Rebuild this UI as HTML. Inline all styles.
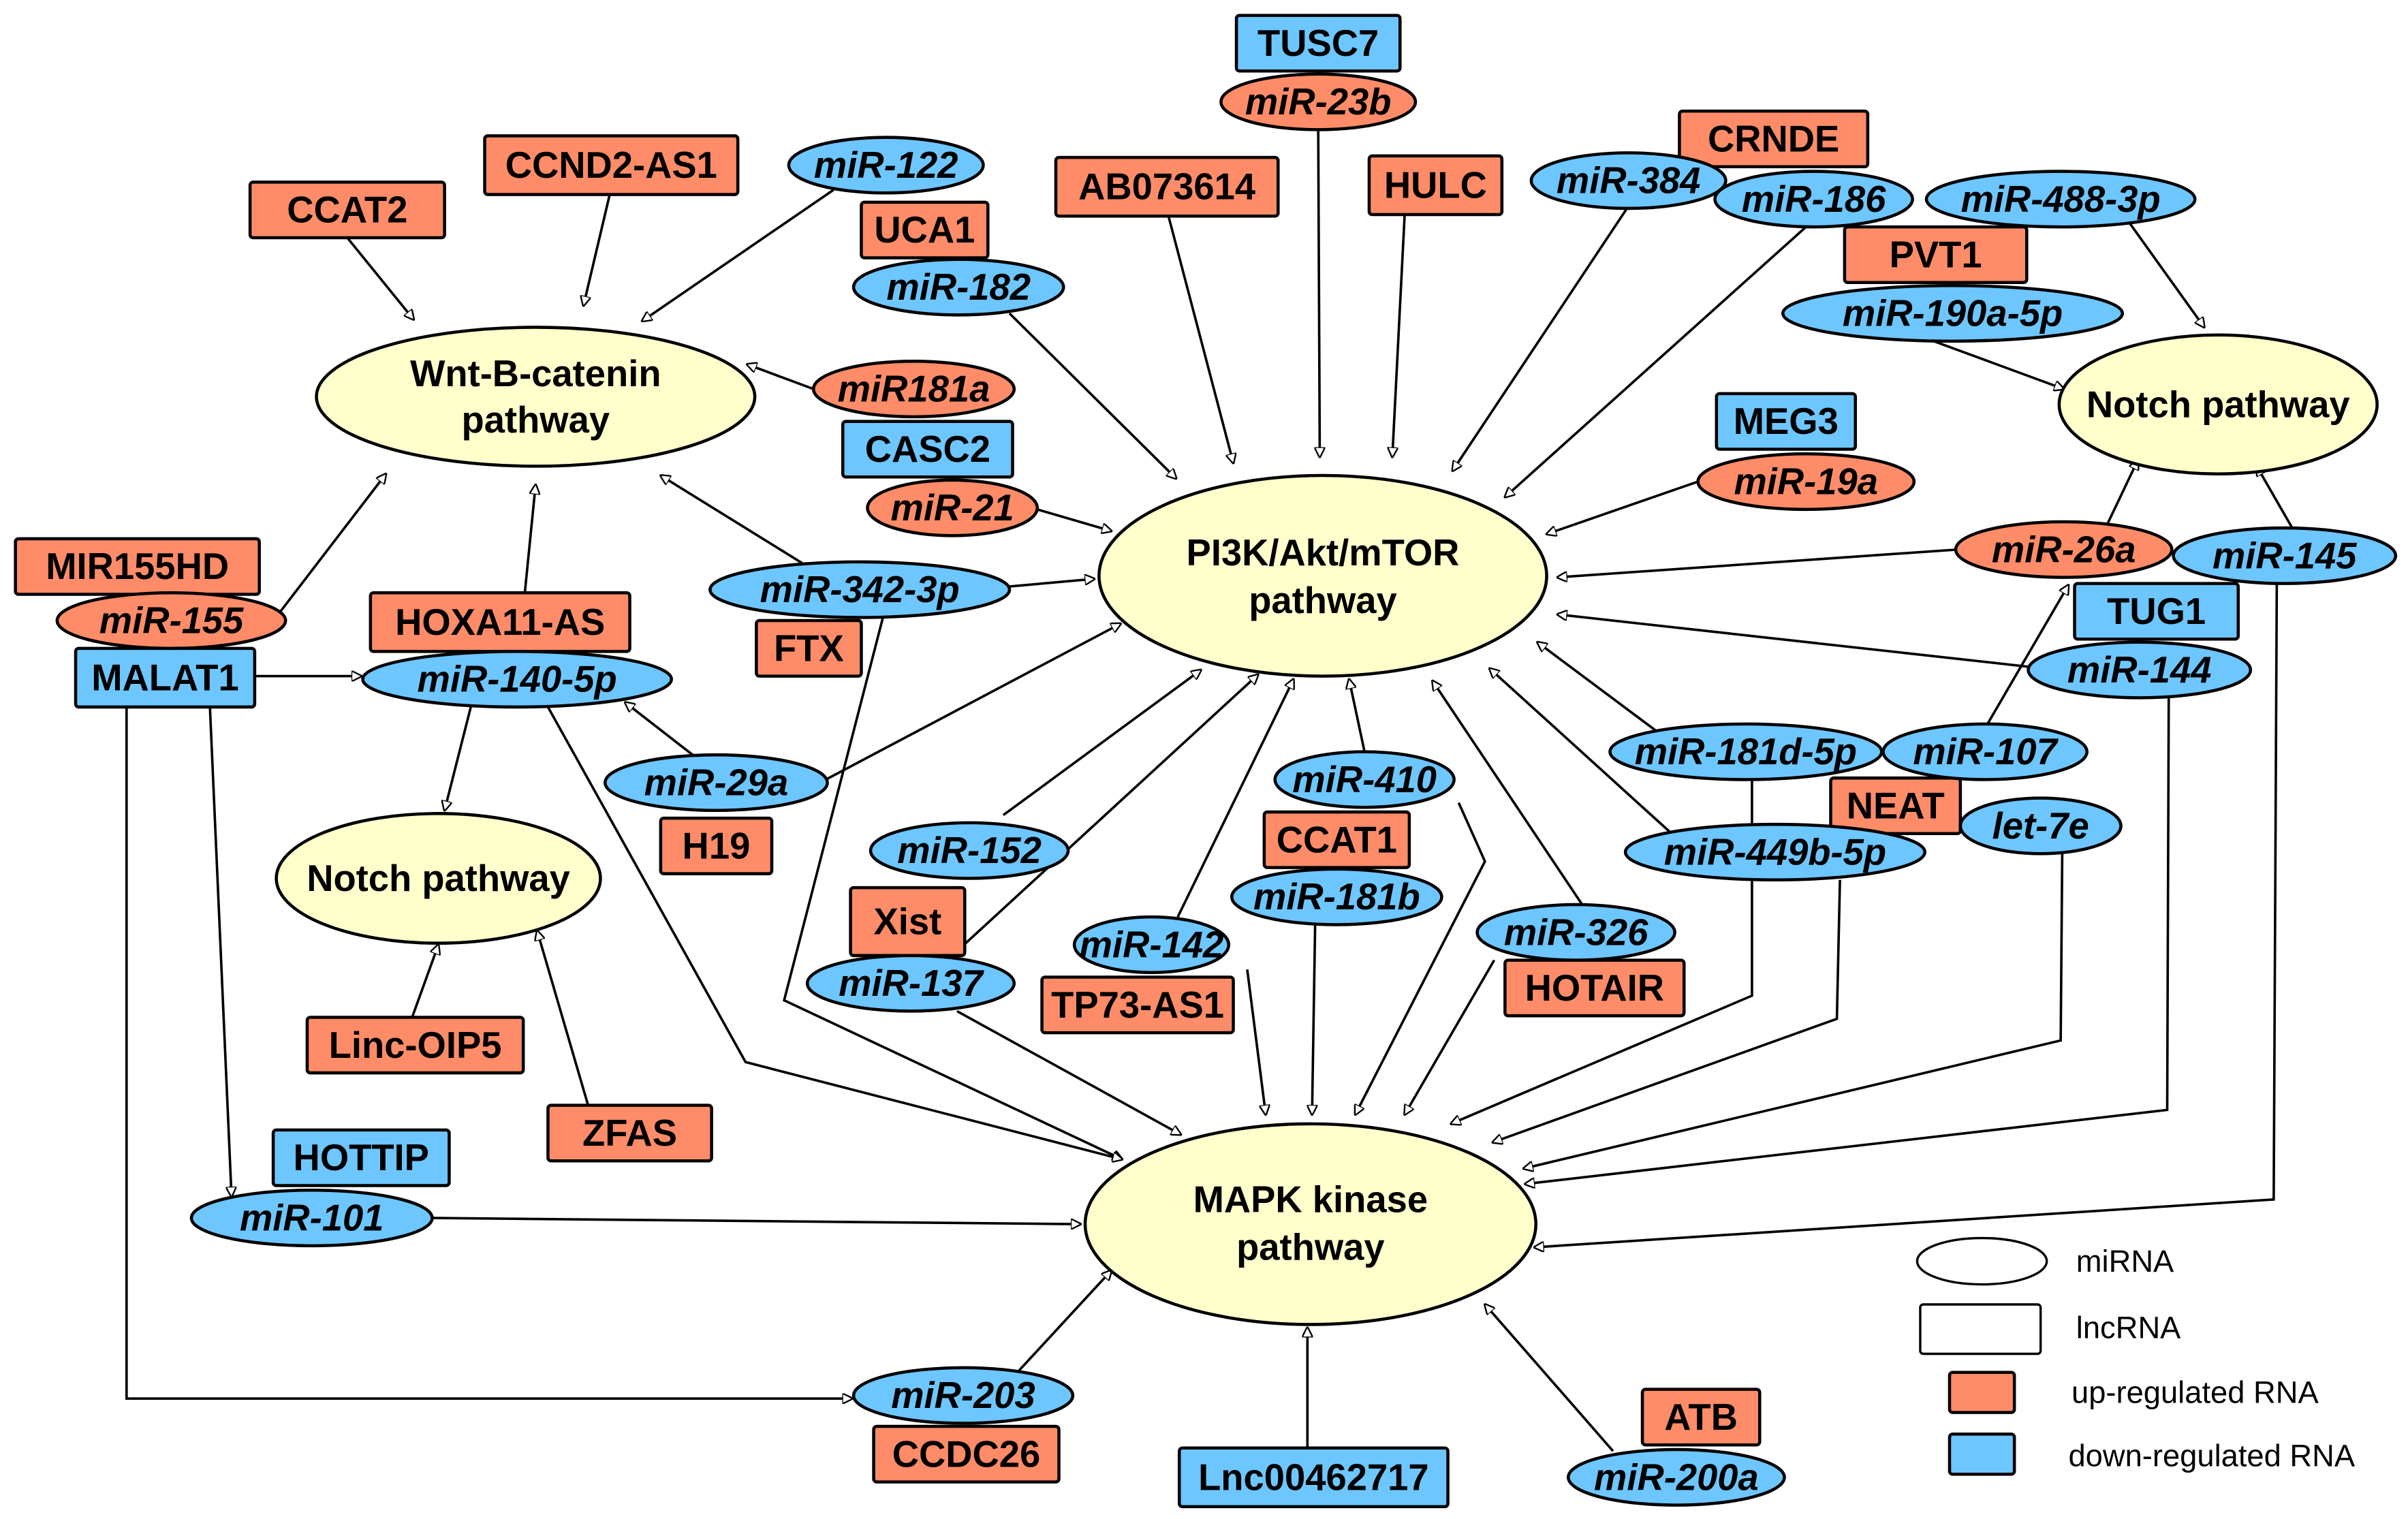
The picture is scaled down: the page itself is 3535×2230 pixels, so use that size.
<!DOCTYPE html>
<html><head><meta charset="utf-8"><style>
html,body{margin:0;padding:0;background:#fff}
svg{display:block}
text{font-family:"Liberation Sans Narrow","Liberation Sans",sans-serif;font-weight:bold;font-size:24px;text-anchor:middle;dominant-baseline:central;fill:#000}
.i{font-style:italic}
.lg{font-weight:normal;font-size:20px;text-anchor:start;font-family:"Liberation Sans",sans-serif}
.b{fill:#6ec6ff;stroke:#000;stroke-width:2}
.o{fill:#ff8c69;stroke:#000;stroke-width:2}
.p{fill:#ffffcc;stroke:#000;stroke-width:2}
.l{fill:none;stroke:#000;stroke-width:1.6;marker-end:url(#a)}
</style></head><body>
<svg width="3535" height="2230" viewBox="0 0 1560 984" preserveAspectRatio="none" xmlns="http://www.w3.org/2000/svg">
<defs><marker id="a" viewBox="0 0 10 10" refX="9" refY="5" markerWidth="7" markerHeight="7" orient="auto" markerUnits="userSpaceOnUse"><path d="M0,0 L10,5 L0,10 Z" fill="#fff" stroke="#000" stroke-width="1.5"/></marker></defs>

<!-- connectors -->
<path class="l" d="M225,154 L268,207"/>
<path class="l" d="M395,126 L378,198"/>
<path class="l" d="M540,123 L416,208"/>
<path class="l" d="M527,252 L484,236"/>
<path class="l" d="M654,203 L762,310"/>
<path class="l" d="M757,140 L799,300"/>
<path class="l" d="M854,84 L855,296"/>
<path class="l" d="M910,139 L902,296"/>
<path class="l" d="M1054,135 L941,305"/>
<path class="l" d="M1170,147 L975,322"/>
<path class="l" d="M1380,145 L1428,212"/>
<path class="l" d="M1250,220 L1337,252"/>
<path class="l" d="M1100,312 L1002,346"/>
<path class="l" d="M672,330 L720,344"/>
<path class="l" d="M520,365 L428,308"/>
<path class="l" d="M653,380 L709,375"/>
<path class="l" d="M572,400 L508,648 L727,751"/>
<path class="l" d="M181,397 L250,307"/>
<path class="l" d="M340,384 L347,314"/>
<path class="l" d="M165,438 L234,438"/>
<path class="l" d="M305,458 L288,525"/>
<path class="l" d="M355,458 L483,688 L727,751"/>
<path class="l" d="M450,490 L405,455"/>
<path class="l" d="M535,505 L726,404"/>
<path class="l" d="M1268,356 L1009,374"/>
<path class="l" d="M1365,340 L1385,298"/>
<path class="l" d="M1485,342 L1462,302"/>
<path class="l" d="M1475,378 L1473,777 L994,808"/>
<path class="l" d="M1315,432 L1009,398"/>
<path class="l" d="M1405,452 L1404,719 L988,767"/>
<path class="l" d="M1287,470 L1340,379"/>
<path class="l" d="M1075,475 L996,416"/>
<path class="l" d="M1083,540 L965,433"/>
<path class="l" d="M1135,505 L1135,645 L940,728"/>
<path class="l" d="M1192,570 L1190,660 L967,740"/>
<path class="l" d="M1336,553 L1335,674 L987,757"/>
<path class="l" d="M884,487 L874,440"/>
<path class="l" d="M945,520 L962,558 L878,722"/>
<path class="l" d="M852,599 L850,722"/>
<path class="l" d="M1025,586 L928,441"/>
<path class="l" d="M968,622 L910,722"/>
<path class="l" d="M650,528 L778,434"/>
<path class="l" d="M618,618 L815,437"/>
<path class="l" d="M620,655 L765,735"/>
<path class="l" d="M763,594 L838,440"/>
<path class="l" d="M808,628 L820,722"/>
<path class="l" d="M267,659 L284,612"/>
<path class="l" d="M381,716 L348,603"/>
<path class="l" d="M136,458 L150,775"/>
<path class="l" d="M82,458 L82,906 L552,906"/>
<path class="l" d="M280,789 L700,793"/>
<path class="l" d="M660,888 L720,823"/>
<path class="l" d="M847,938 L847,860"/>
<path class="l" d="M1045,940 L962,845"/>

<!-- pathways -->
<ellipse class="p" cx="347" cy="257" rx="142" ry="45"/><text x="347" y="242">Wnt-B-catenin</text><text x="347" y="272">pathway</text>
<ellipse class="p" cx="857" cy="373" rx="145" ry="65"/><text x="857" y="358">PI3K/Akt/mTOR</text><text x="857" y="389">pathway</text>
<ellipse class="p" cx="1437" cy="262" rx="103" ry="45"/><text x="1437" y="262">Notch pathway</text>
<ellipse class="p" cx="284" cy="569" rx="105" ry="42"/><text x="284" y="569">Notch pathway</text>
<ellipse class="p" cx="849" cy="793" rx="146" ry="65"/><text x="849" y="777">MAPK kinase</text><text x="849" y="808">pathway</text>

<!-- boxes -->
<rect class="b" x="801" y="10" width="106" height="36" rx="2"/><text x="854" y="28">TUSC7</text>
<rect class="o" x="162" y="118" width="126" height="36" rx="2"/><text x="225" y="136">CCAT2</text>
<rect class="o" x="314" y="88" width="164" height="38" rx="2"/><text x="396" y="107">CCND2-AS1</text>
<rect class="o" x="558" y="131" width="82" height="36" rx="2"/><text x="599" y="149">UCA1</text>
<rect class="o" x="684" y="102" width="144" height="38" rx="2"/><text x="756" y="121">AB073614</text>
<rect class="o" x="887" y="101" width="86" height="38" rx="2"/><text x="930" y="120">HULC</text>
<rect class="o" x="1088" y="72" width="122" height="36" rx="2"/><text x="1149" y="90">CRNDE</text>
<rect class="o" x="1195" y="147" width="118" height="36" rx="2"/><text x="1254" y="165">PVT1</text>
<rect class="b" x="546" y="273" width="110" height="36" rx="2"/><text x="601" y="291">CASC2</text>
<rect class="b" x="1112" y="255" width="90" height="36" rx="2"/><text x="1157" y="273">MEG3</text>
<rect class="o" x="10" y="349" width="158" height="36" rx="2"/><text x="89" y="367">MIR155HD</text>
<rect class="b" x="49" y="420" width="116" height="38" rx="2"/><text x="107" y="439">MALAT1</text>
<rect class="o" x="240" y="384" width="168" height="38" rx="2"/><text x="324" y="403">HOXA11-AS</text>
<rect class="o" x="490" y="402" width="68" height="36" rx="2"/><text x="524" y="420">FTX</text>
<rect class="b" x="1344" y="378" width="106" height="36" rx="2"/><text x="1397" y="396">TUG1</text>
<rect class="o" x="428" y="530" width="72" height="36" rx="2"/><text x="464" y="548">H19</text>
<rect class="o" x="819" y="526" width="94" height="36" rx="2"/><text x="866" y="544">CCAT1</text>
<rect class="o" x="1186" y="504" width="84" height="36" rx="2"/><text x="1228" y="522">NEAT</text>
<rect class="o" x="551" y="575" width="74" height="44" rx="2"/><text x="588" y="597">Xist</text>
<rect class="o" x="675" y="633" width="124" height="36" rx="2"/><text x="737" y="651">TP73-AS1</text>
<rect class="o" x="975" y="622" width="116" height="36" rx="2"/><text x="1033" y="640">HOTAIR</text>
<rect class="o" x="199" y="659" width="140" height="36" rx="2"/><text x="269" y="677">Linc-OIP5</text>
<rect class="o" x="355" y="716" width="106" height="36" rx="2"/><text x="408" y="734">ZFAS</text>
<rect class="b" x="177" y="732" width="114" height="36" rx="2"/><text x="234" y="750">HOTTIP</text>
<rect class="o" x="566" y="924" width="120" height="36" rx="2"/><text x="626" y="942">CCDC26</text>
<rect class="b" x="764" y="938" width="174" height="38" rx="2"/><text x="851" y="957">Lnc00462717</text>
<rect class="o" x="1064" y="900" width="76" height="36" rx="2"/><text x="1102" y="918">ATB</text>

<!-- miRNA ellipses -->
<g class="i">
<ellipse class="o" cx="854" cy="66" rx="63" ry="18"/><text class="i" x="854" y="66">miR-23b</text>
<ellipse class="b" cx="574" cy="107" rx="63" ry="18"/><text class="i" x="574" y="107">miR-122</text>
<ellipse class="b" cx="621" cy="186" rx="68" ry="18"/><text class="i" x="621" y="186">miR-182</text>
<ellipse class="b" cx="1055" cy="117" rx="63" ry="18"/><text class="i" x="1055" y="117">miR-384</text>
<ellipse class="b" cx="1175" cy="129" rx="64" ry="18"/><text class="i" x="1175" y="129">miR-186</text>
<ellipse class="b" cx="1335" cy="129" rx="87" ry="18"/><text class="i" x="1335" y="129">miR-488-3p</text>
<ellipse class="b" cx="1265" cy="203" rx="110" ry="18"/><text class="i" x="1265" y="203">miR-190a-5p</text>
<ellipse class="o" cx="592" cy="252" rx="65" ry="18"/><text class="i" x="592" y="252">miR181a</text>
<ellipse class="o" cx="617" cy="329" rx="55" ry="18"/><text class="i" x="617" y="329">miR-21</text>
<ellipse class="o" cx="1170" cy="312" rx="70" ry="18"/><text class="i" x="1170" y="312">miR-19a</text>
<ellipse class="o" cx="111" cy="402" rx="74" ry="18"/><text class="i" x="111" y="402">miR-155</text>
<ellipse class="b" cx="335" cy="440" rx="100" ry="18"/><text class="i" x="335" y="440">miR-140-5p</text>
<ellipse class="b" cx="557" cy="382" rx="97" ry="18"/><text class="i" x="557" y="382">miR-342-3p</text>
<ellipse class="o" cx="1337" cy="356" rx="70" ry="18"/><text class="i" x="1337" y="356">miR-26a</text>
<ellipse class="b" cx="1480" cy="360" rx="72" ry="18"/><text class="i" x="1480" y="360">miR-145</text>
<ellipse class="b" cx="1386" cy="434" rx="72" ry="18"/><text class="i" x="1386" y="434">miR-144</text>
<ellipse class="b" cx="464" cy="507" rx="72" ry="18"/><text class="i" x="464" y="507">miR-29a</text>
<ellipse class="b" cx="884" cy="505" rx="58" ry="18"/><text class="i" x="884" y="505">miR-410</text>
<ellipse class="b" cx="866" cy="581" rx="68" ry="18"/><text class="i" x="866" y="581">miR-181b</text>
<ellipse class="b" cx="1131" cy="487" rx="88" ry="18"/><text class="i" x="1131" y="487">miR-181d-5p</text>
<ellipse class="b" cx="1286" cy="487" rx="66" ry="18"/><text class="i" x="1286" y="487">miR-107</text>
<ellipse class="b" cx="1150" cy="552" rx="97" ry="18"/><text class="i" x="1150" y="552">miR-449b-5p</text>
<ellipse class="b" cx="1322" cy="535" rx="52" ry="18"/><text class="i" x="1322" y="535">let-7e</text>
<ellipse class="b" cx="628" cy="551" rx="64" ry="18"/><text class="i" x="628" y="551">miR-152</text>
<ellipse class="b" cx="590" cy="637" rx="67" ry="18"/><text class="i" x="590" y="637">miR-137</text>
<ellipse class="b" cx="746" cy="612" rx="50" ry="18"/><text class="i" x="746" y="612">miR-142</text>
<ellipse class="b" cx="1021" cy="604" rx="64" ry="18"/><text class="i" x="1021" y="604">miR-326</text>
<ellipse class="b" cx="202" cy="789" rx="78" ry="18"/><text class="i" x="202" y="789">miR-101</text>
<ellipse class="b" cx="624" cy="904" rx="71" ry="18"/><text class="i" x="624" y="904">miR-203</text>
<ellipse class="b" cx="1086" cy="957" rx="70" ry="18"/><text class="i" x="1086" y="957">miR-200a</text>
</g>

<!-- legend -->
<ellipse cx="1284" cy="817" rx="42" ry="15" fill="#fff" stroke="#000" stroke-width="1.5"/>
<rect x="1244" y="845" width="78" height="32" rx="2" fill="#fff" stroke="#000" stroke-width="1.5"/>
<rect class="o" x="1263" y="889" width="42" height="26" rx="2"/>
<rect class="b" x="1263" y="929" width="42" height="26" rx="2"/>
<text class="lg" x="1345" y="817">miRNA</text>
<text class="lg" x="1345" y="860">lncRNA</text>
<text class="lg" x="1342" y="902">up-regulated RNA</text>
<text class="lg" x="1340" y="943">down-regulated RNA</text>
</svg>
</body></html>
